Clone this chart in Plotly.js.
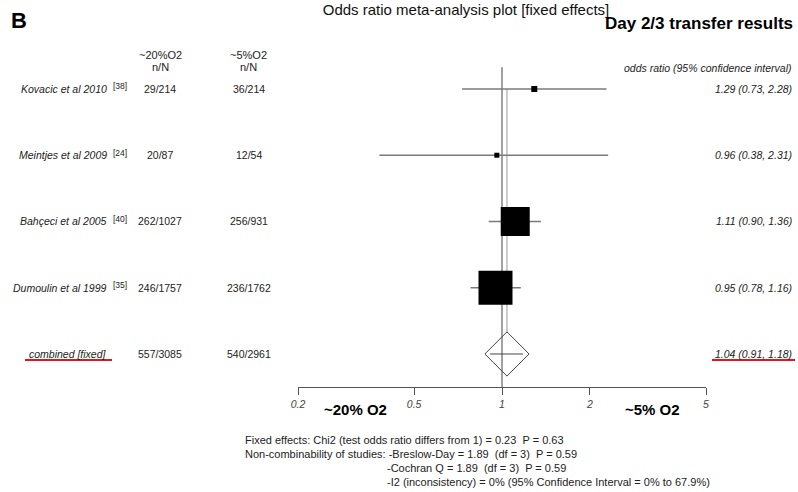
<!DOCTYPE html>
<html>
<head>
<meta charset="utf-8">
<script src="https://cdn.plot.ly/plotly-3.0.1.min.js"></script>
<style>html,body{margin:0;padding:0;background:#fff;}#chart{width:798px;height:492px;}</style>
</head>
<body>
<div id="chart"></div>
<script>
// ---------- data ----------
const studies = ['Kovacic et al 2010', 'Meintjes et al 2009', 'Bahçeci et al 2005', 'Dumoulin et al 1999'];
const refs = ['[38]', '[24]', '[40]', '[35]'];
const n20 = [29, 20, 262, 246];
const N20 = [214, 87, 1027, 1757];
const n5 = [36, 12, 256, 236];
const N5 = [214, 54, 931, 1762];
const oddsRatio = [1.29, 0.96, 1.11, 0.95];
const ciLow = [0.73, 0.38, 0.90, 0.78];
const ciHigh = [2.28, 2.31, 1.36, 1.16];
const pooledLabel = 'combined [fixed]';
const pooledN20 = [557, 3085];
const pooledN5 = [540, 2961];
const pooledOR = 1.04;
const pooledLow = 0.91;
const pooledHigh = 1.18;
const tickVals = [0.2, 0.5, 1, 2, 5];
const tickText = ['0.2', '0.5', '1', '2', '5'];
const statsLines = [
  'Fixed effects: Chi2 (test odds ratio differs from 1) = 0.23\u00a0\u00a0P = 0.63',
  'Non-combinability of studies: -Breslow-Day = 1.89\u00a0\u00a0(df = 3)\u00a0\u00a0P = 0.59',
  '-Cochran Q = 1.89\u00a0\u00a0(df = 3)\u00a0\u00a0P = 0.59',
  '-I2 (inconsistency) = 0% (95% Confidence Interval = 0% to 67.9%)'
];

// ---------- layout helpers ----------
const W = 798, H = 492;
const FONT = 'Liberation Sans, Arial, Helvetica, sans-serif';
const px = x => x / W;              // paper x from pixel
const py = y => 1 - y / H;          // paper y from pixel
const rows = studies.map((_, i) => i + 1);
const pooledRow = studies.length + 1;
const squareSizes = [6, 5, 29, 34];

// ---------- traces ----------
const ciX = [], ciY = [];
rows.forEach((r, i) => { ciX.push(ciLow[i], ciHigh[i], null); ciY.push(r, r, null); });

const traces = [
  { type: 'scatter', mode: 'lines', x: ciX, y: ciY, hoverinfo: 'skip',
    line: { color: '#7a7a7a', width: 1.3 } },
  { type: 'scatter', mode: 'markers', x: oddsRatio, y: rows, hoverinfo: 'skip',
    marker: { symbol: 'square', size: squareSizes, color: '#000', opacity: 1, line: { width: 0 } } },
  { type: 'scatter', mode: 'markers', x: [pooledOR], y: [pooledRow], hoverinfo: 'skip',
    marker: { symbol: 'diamond-open', size: 34, color: '#444', opacity: 1, line: { color: '#444', width: 1 } } },
  { type: 'scatter', mode: 'lines', x: [pooledLow, pooledHigh], y: [pooledRow, pooledRow], hoverinfo: 'skip',
    line: { color: '#444', width: 1 } }
];

// ---------- annotations ----------
const ann = [];
const txt = (text, x, y, opts) => ann.push(Object.assign({
  text, x, y, xref: 'paper', yref: 'y', showarrow: false,
  font: { family: FONT, size: 10.5, color: '#222' }
}, opts || {}));

rows.forEach((r, i) => {
  txt('<i>' + studies[i] + '</i>', px(109), r, { xanchor: 'right' });
  txt(refs[i], px(129), r - 0.04, { xanchor: 'right', font: { family: FONT, size: 8.5, color: '#222' } });
  txt(n20[i] + '/' + N20[i], px(160), r, { xanchor: 'center' });
  txt(n5[i] + '/' + N5[i], px(249), r, { xanchor: 'center' });
  txt('<i>' + oddsRatio[i].toFixed(2) + ' (' + ciLow[i].toFixed(2) + ', ' + ciHigh[i].toFixed(2) + ')</i>',
      px(794), r, { xanchor: 'right' });
});
txt('<i>' + pooledLabel + '</i>', px(68), pooledRow, { xanchor: 'center' });
txt(pooledN20[0] + '/' + pooledN20[1], px(160), pooledRow, { xanchor: 'center' });
txt(pooledN5[0] + '/' + pooledN5[1], px(249), pooledRow, { xanchor: 'center' });
txt('<i>' + pooledOR.toFixed(2) + ' (' + pooledLow.toFixed(2) + ', ' + pooledHigh.toFixed(2) + ')</i>',
    px(794), pooledRow, { xanchor: 'right' });

const ptxt = (text, x, y, opts) => ann.push(Object.assign({
  text, x: px(x), y: py(y), xref: 'paper', yref: 'paper', showarrow: false, yanchor: 'middle',
  font: { family: FONT, size: 11, color: '#222' }
}, opts || {}));

ptxt('<b>B</b>', 9, 20, { xanchor: 'left', font: { family: FONT, size: 22, color: '#000' } });
ptxt('<b>Day 2/3 transfer results</b>', 795, 23, { xanchor: 'right', font: { family: FONT, size: 17, color: '#000' } });
ptxt('~20%O2', 160, 55, { xanchor: 'center' });
ptxt('n/N', 160, 67, { xanchor: 'center' });
ptxt('~5%O2', 248, 55, { xanchor: 'center' });
ptxt('n/N', 248, 67, { xanchor: 'center' });
ptxt('<i>odds ratio (95% confidence interval)</i>', 794, 68, { xanchor: 'right', font: { family: FONT, size: 10.5, color: '#222' } });
ptxt('<b>~20% O2</b>', 355, 409, { xanchor: 'center', font: { family: FONT, size: 15, color: '#000' } });
ptxt('<b>~5% O2</b>', 652, 409, { xanchor: 'center', font: { family: FONT, size: 15, color: '#000' } });
ptxt(statsLines[0], 243, 440, { xanchor: 'left' });
ptxt(statsLines[1], 243, 454, { xanchor: 'left' });
ptxt(statsLines[2], 385, 468, { xanchor: 'left' });
ptxt(statsLines[3], 385, 482, { xanchor: 'left' });

// ---------- shapes ----------
const shapes = [
  // line of no effect
  { type: 'line', layer: 'below', xref: 'x', yref: 'y', x0: 1, x1: 1, y0: 0.67, y1: 5.5, line: { color: '#444', width: 1 } },
  // pooled estimate line
  { type: 'line', layer: 'below', xref: 'x', yref: 'y', x0: pooledOR, x1: pooledOR, y0: 1, y1: pooledRow - 0.33, line: { color: '#9a9a9a', width: 1 } },
  // red underlines
  { type: 'line', xref: 'paper', yref: 'paper', x0: px(25), x1: px(112), y0: py(360), y1: py(360), line: { color: '#e8141b', width: 2 } },
  { type: 'line', xref: 'paper', yref: 'paper', x0: px(712), x1: px(795), y0: py(360), y1: py(360), line: { color: '#e8141b', width: 2 } }
];

const layout = {
  width: W, height: H,
  margin: { l: 0, r: 0, t: 0, b: 0 },
  paper_bgcolor: '#fff', plot_bgcolor: 'rgba(0,0,0,0)',
  showlegend: false,
  title: { text: 'Odds ratio meta-analysis plot [fixed effects]', x: px(466), xanchor: 'center',
           y: py(10), yanchor: 'middle', font: { family: FONT, size: 15, color: '#111' } },
  xaxis: {
    type: 'log', range: [Math.log10(0.2), Math.log10(5)], domain: [px(298), px(706)],
    anchor: 'free', position: py(387),
    showgrid: false, zeroline: false, showline: true, linecolor: '#555', linewidth: 1,
    ticks: 'outside', ticklen: 7, tickcolor: '#555', tickwidth: 1,
    tickvals: tickVals, ticktext: tickText,
    tickfont: { family: FONT, size: 10.5, color: '#444', style: 'italic' },
    fixedrange: true
  },
  yaxis: {
    range: [7.083, -0.343], domain: [0, 1], visible: false, fixedrange: true
  },
  annotations: ann,
  shapes: shapes
};

Plotly.newPlot('chart', traces, layout, { staticPlot: true, displayModeBar: false });
</script>
</body>
</html>
